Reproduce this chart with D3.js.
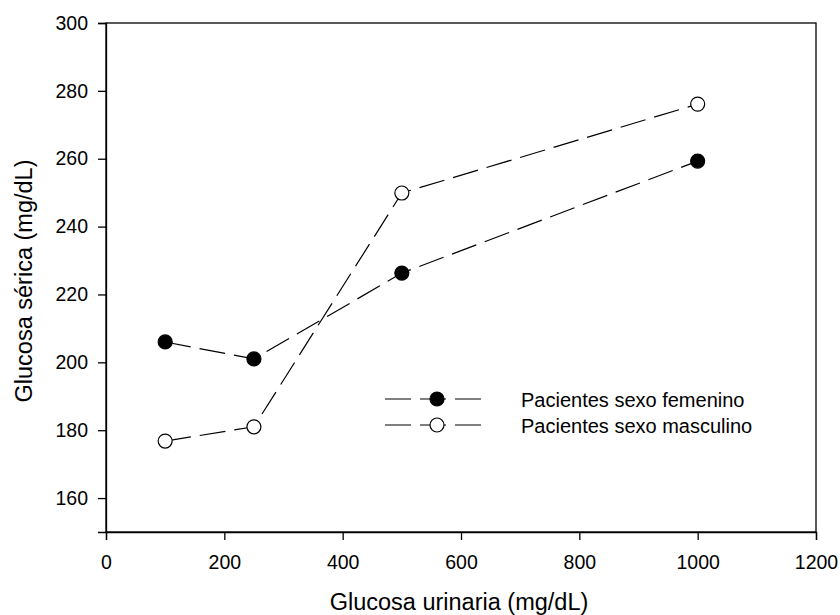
<!DOCTYPE html>
<html>
<head>
<meta charset="utf-8">
<script src="https://cdn.jsdelivr.net/npm/d3@7"></script>
<style>
body { margin: 0; background: #fff; }
text { font-family: Arial, "Liberation Sans", sans-serif; }
</style>
</head>
<body>
<div id="grafica"></div>
<script>
// datos
var orina = [100, 250, 500, 1000];
var femenino = [206, 201, 226.3, 259.3];
var masculino = [176.8, 181, 249.9, 276.1];
var nombres = ["Pacientes sexo femenino", "Pacientes sexo masculino"];
var xTicks = [0, 200, 400, 600, 800, 1000, 1200];
var yTicks = [160, 180, 200, 220, 240, 260, 280, 300];

var svg = d3.select("#grafica")
	.append("svg")
	.attr("width", 840)
	.attr("height", 615);

var x = d3.scaleLinear().domain([0, 1200]).range([106, 816]);
var y = d3.scaleLinear().domain([150, 300]).range([532, 23]);
var guion = "26,9";

// marco
svg.append("rect")
	.attr("x", x(0)).attr("y", y(300))
	.attr("width", x(1200) - x(0)).attr("height", y(150) - y(300))
	.attr("fill", "none").attr("stroke", "#000").attr("stroke-width", 1.3);

var ejeX = svg.append("g")
	.attr("transform", "translate(0," + y(150) + ")")
	.call(d3.axisBottom(x).tickValues(xTicks).tickSize(8).tickPadding(15).tickFormat(d3.format("d")));
var ejeY = svg.append("g")
	.attr("transform", "translate(" + x(0) + ",0)")
	.call(d3.axisLeft(y).tickValues(yTicks).tickSize(8).tickPadding(10).tickFormat(d3.format("d")));
[ejeX, ejeY].forEach(function (g) {
	g.attr("font-size", null).attr("font-family", null);
	g.select(".domain").attr("stroke-width", 1.3);
	g.selectAll(".tick line").attr("stroke-width", 1.3);
	g.selectAll(".tick text").style("font-size", "19.5px").attr("fill", "#000");
});

svg.append("text")
	.attr("x", 459).attr("y", 610)
	.attr("text-anchor", "middle").style("font-size", "23.5px")
	.text("Glucosa urinaria (mg/dL)");
svg.append("text")
	.attr("transform", "translate(32,281) rotate(-90)")
	.attr("text-anchor", "middle").style("font-size", "23.5px")
	.text("Glucosa sérica (mg/dL)");

var linea = d3.line()
	.x(function (d) { return x(d[0]); })
	.y(function (d) { return y(d[1]); });

var series = [
	{ valores: femenino, relleno: "#000" },
	{ valores: masculino, relleno: "#fff" }
];

series.forEach(function (s) {
	var puntos = orina.map(function (v, i) { return [v, s.valores[i]]; });
	svg.append("path")
		.datum(puntos)
		.attr("d", linea)
		.attr("fill", "none").attr("stroke", "#000").attr("stroke-width", 1.2)
		.attr("stroke-dasharray", guion);
	svg.selectAll(null)
		.data(puntos)
		.enter().append("circle")
		.attr("cx", function (d) { return x(d[0]); })
		.attr("cy", function (d) { return y(d[1]); })
		.attr("r", 7)
		.attr("fill", s.relleno).attr("stroke", "#000").attr("stroke-width", 1.2);
});

// leyenda
var leyendaY = [399, 425];
series.forEach(function (s, i) {
	svg.append("line")
		.attr("x1", 385).attr("x2", 489)
		.attr("y1", leyendaY[i]).attr("y2", leyendaY[i])
		.attr("stroke", "#000").attr("stroke-width", 1.2)
		.attr("stroke-dasharray", "26,9");
	svg.append("circle")
		.attr("cx", 437).attr("cy", leyendaY[i]).attr("r", 7)
		.attr("fill", s.relleno).attr("stroke", "#000").attr("stroke-width", 1.2);
	svg.append("text")
		.attr("x", 521).attr("y", leyendaY[i] + 8)
		.style("font-size", "20px")
		.text(nombres[i]);
});
</script>
</body>
</html>
